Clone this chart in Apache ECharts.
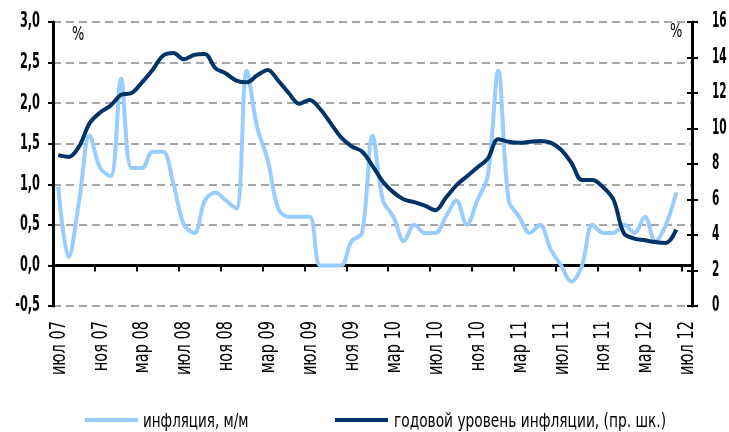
<!DOCTYPE html>
<html>
<head>
<meta charset="utf-8">
<script src="https://cdn.jsdelivr.net/npm/echarts@6/dist/echarts.min.js"></script>
<style>
html,body{margin:0;padding:0;background:#fff;}
#chart{width:729px;height:432px;}
</style>
</head>
<body>
<div id="chart"></div>
<script>
var months = ['янв','фев','мар','апр','май','июн','июл','авг','сен','окт','ноя','дек'];
var categories = [];
(function(){
  for (var k = 0; k < 61; k++) {
    var m = (6 + k) % 12;
    var y = 7 + Math.floor((6 + k) / 12);
    categories.push(months[m] + ' ' + (y < 10 ? '0' + y : '' + y));
  }
})();

var inflationMoM = [
  0.97, 0.1, 0.8, 1.6, 1.2, 1.1,
  2.3, 1.2, 1.2, 1.4, 1.4, 1.0, 0.5, 0.4, 0.8, 0.9, 0.8, 0.7,
  2.4, 1.7, 1.3, 0.7, 0.6, 0.6, 0.6, 0.0, 0.0, 0.0, 0.3, 0.4,
  1.6, 0.8, 0.6, 0.3, 0.5, 0.4, 0.4, 0.6, 0.8, 0.5, 0.8, 1.1,
  2.4, 0.8, 0.6, 0.4, 0.5, 0.2, 0.0, -0.2, 0.0, 0.5, 0.4, 0.4,
  0.5, 0.4, 0.6, 0.3, 0.5, 0.9, null
];
var inflationYoY = [
  8.5, 8.4, 9.0, 10.3, 10.9, 11.3,
  11.9, 12.0, 12.6, 13.3, 14.1, 14.25, 13.9, 14.15, 14.2, 13.4, 13.1, 12.7,
  12.6, 13.0, 13.3, 12.7, 12.0, 11.4, 11.6, 11.1, 10.3, 9.5, 9.0, 8.7,
  7.9, 7.0, 6.4, 6.0, 5.85, 5.65, 5.4, 6.1, 6.8, 7.3, 7.8, 8.3,
  9.4, 9.25, 9.2, 9.25, 9.3, 9.2, 8.8, 8.05, 7.1, 7.1, 6.7, 6.0,
  4.1, 3.8, 3.7, 3.6, 3.55, 4.3, null
];
var seriesNames = ['инфляция, м/м', 'годовой уровень инфляции, (пр. шк.)'];
var leftTicks = [-0.5, 0, 0.5, 1, 1.5, 2, 2.5, 3];
var leftTickLabels = ['-0,5', '0,0', '0,5', '1,0', '1,5', '2,0', '2,5', '3,0'];
var rightTicks = [0, 2, 4, 6, 8, 10, 12, 14, 16];
var rightTickLabels = ['0', '2', '4', '6', '8', '10', '12', '14', '16'];
var xLabelEvery = 4;

var FONT = '"DejaVu Sans Condensed", "DejaVu Sans", sans-serif';
var NARROW = 0.74;

var chart = echarts.init(document.getElementById('chart'), null, {renderer: 'canvas'});
var legendCommon = {
  top: 418, padding: 0, itemWidth: 53, itemHeight: 4, icon: 'rect',
  formatter: function () { return ''; },
  textStyle: {fontSize: 4}
};
chart.setOption({
  animation: false,
  textStyle: {fontFamily: FONT},
  grid: {left: 53, right: 37, top: 22, bottom: 126, containLabel: false},
  legend: [
    Object.assign({left: 85, data: [seriesNames[0]]}, legendCommon),
    Object.assign({left: 335, data: [seriesNames[1]]}, legendCommon)
  ],
  xAxis: [
    {
      type: 'category', data: categories, boundaryGap: true, position: 'bottom',
      axisLine: {show: true, onZero: true, lineStyle: {color: '#000', width: 3}},
      axisTick: {show: true, interval: xLabelEvery - 1, length: 6, lineStyle: {color: '#000', width: 2}},
      axisLabel: {show: false},
      splitLine: {show: false}
    }
  ],
  yAxis: [
    {
      type: 'value', min: -0.5, max: 3, interval: 0.5, position: 'left',
      axisLine: {show: true, lineStyle: {color: '#000', width: 3}},
      axisTick: {show: true, length: 5, lineStyle: {color: '#000', width: 2}},
      splitLine: {show: true, lineStyle: {type: [8, 5], color: '#a6a6a6', width: 2}},
      axisLabel: {show: false}
    },
    {
      type: 'value', min: 0, max: 16, interval: 2, position: 'right',
      axisLine: {show: true, lineStyle: {color: '#000', width: 3}},
      axisTick: {show: true, length: 6, lineStyle: {color: '#000', width: 2}},
      splitLine: {show: false},
      axisLabel: {show: false}
    },
    {
      type: 'value', min: 0, max: 16, interval: 2, position: 'right',
      axisLine: {show: false},
      axisTick: {show: true, inside: true, length: 5, lineStyle: {color: '#000', width: 2}},
      splitLine: {show: false},
      axisLabel: {show: false}
    }
  ],
  series: [
    {
      name: seriesNames[0], type: 'line', xAxisIndex: 0, yAxisIndex: 0,
      data: inflationMoM, smooth: 0.35, showSymbol: false, symbol: 'none',
      lineStyle: {color: '#99ccff', width: 4}, itemStyle: {color: '#99ccff'}
    },
    {
      name: seriesNames[1], type: 'line', xAxisIndex: 0, yAxisIndex: 1,
      data: inflationYoY, smooth: 0.35, showSymbol: false, symbol: 'none',
      lineStyle: {color: '#003366', width: 4}, itemStyle: {color: '#003366'}
    }
  ]
});

// Condensed text labels placed through the chart's own axis scales
var g = [];
function narrowText(x, y, text, opts) {
  return {
    type: 'text', x: x, y: y, scaleX: opts.scaleX || NARROW, rotation: opts.rotation || 0,
    silent: true,
    style: {
      text: text, fill: '#000',
      font: (opts.weight || 'normal') + ' ' + opts.size + 'px ' + FONT,
      align: opts.align || 'left', verticalAlign: opts.vAlign || 'middle'
    }
  };
}
leftTicks.forEach(function (v, i) {
  var py = chart.convertToPixel({yAxisIndex: 0}, v);
  g.push(narrowText(40, py, leftTickLabels[i], {size: 21, weight: 'bold', align: 'right', scaleX: 0.6}));
});
rightTicks.forEach(function (v, i) {
  var py = chart.convertToPixel({yAxisIndex: 1}, v);
  g.push(narrowText(712, py, rightTickLabels[i], {size: 21, weight: 'bold', align: 'left', scaleX: 0.56}));
});
categories.forEach(function (c, i) {
  if (i % xLabelEvery !== 0) return;
  var px = chart.convertToPixel({xAxisIndex: 0}, i);
  g.push(narrowText(px + 1, 321, c, {size: 21, align: 'right', rotation: Math.PI / 2, scaleX: 0.77}));
});
g.push(narrowText(143, 422, seriesNames[0], {size: 20, align: 'left', scaleX: 0.75}));
g.push(narrowText(394, 422, seriesNames[1], {size: 20, align: 'left', scaleX: 0.765}));
g.push(narrowText(72, 35, '%', {size: 20, align: 'left', scaleX: 0.72}));
g.push(narrowText(670, 32, '%', {size: 20, align: 'left', scaleX: 0.72}));
chart.setOption({graphic: g});
</script>
</body>
</html>
